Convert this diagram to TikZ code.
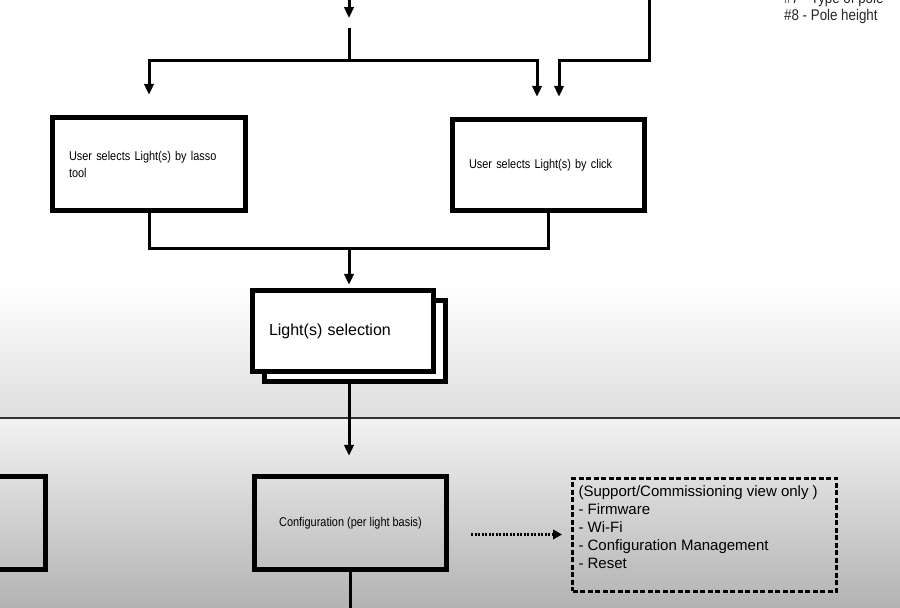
\documentclass[tikz,border=0pt]{standalone}
\usepackage{fontspec}
\setmainfont{Liberation Sans}
\newfontfamily\condfont[FakeStretch=0.86]{Liberation Sans}
\usetikzlibrary{arrows.meta,calc}
\begin{document}
\begin{tikzpicture}[x=1pt,y=-1pt,
  box/.style={draw=black, line width=5.5pt, rectangle, inner sep=0pt},
  conn/.style={line width=3pt},
  arr/.style={conn, -{Triangle[width=9.5pt,length=11pt]}},
  dotarr/.style={line width=3pt, dash pattern=on 2pt off 1.5pt, -{Triangle[width=9.5pt,length=9pt]}},
  smalltxt/.style={font=\condfont\fontsize{12.7}{17}\selectfont},
  midtxt/.style={font=\fontsize{15}{18}\selectfont}]
\useasboundingbox (0,0) rectangle (900,608);
\clip (0,0) rectangle (900,608);
% background
\fill[white] (0,0) rectangle (900,285);
\shade[top color=white, bottom color=black!13] (0,285) rectangle (900,418);
\shade[top color=black!5, bottom color=black!30] (0,418) rectangle (900,608);
\draw[line width=2.5pt, black!80] (0,418) -- (900,418);

% legend
\node[anchor=north west, inner sep=0pt, align=left, text=black!85,
  font=\condfont\fontsize{15.5}{17}\selectfont] (legend) at (784,-8)
  {\#7 - Type of pole\\\#8 - Pole height};

% boxes
\node[box, fill=white, text width=160pt, inner xsep=16.5pt, minimum height=93pt, align=left, smalltxt]
  (lasso) at (149,164) {User selects Light(s) by lasso\\tool};
\node[box, fill=white, text width=159pt, inner xsep=16.5pt, minimum height=91pt, align=left, smalltxt]
  (click) at (548.5,165) {User selects Light(s) by click};
\node[box, fill=white, minimum width=181pt, minimum height=81pt] (selback) at (355,341) {};
\node[box, fill=white, text width=148pt, inner xsep=16.5pt, minimum height=81pt, align=left,
  font=\fontsize{16}{18}\selectfont]
  (sel) at (343,331) {Light(s) selection};
\node[box, minimum width=192pt, minimum height=93pt] (leftbox) at (-50.5,523) {};
\node[box, minimum width=192pt, minimum height=93pt, smalltxt] (config) at (350.5,523)
  {Configuration (per light basis)};
\node[draw=black, line width=3pt, dash pattern=on 5pt off 2.5pt, inner sep=0pt, inner xsep=6pt,
  midtxt, align=left] (dash) at (704.5,534.5)
  {\parbox[t][113pt][t]{252pt}{\vspace{8pt}(Support/Commissioning view only )\\- Firmware\\- Wi-Fi\\- Configuration Management\\- Reset}};

% connectors
\coordinate (t0) at (349,-5);
\coordinate (t1) at (349,18);
\coordinate (s0) at (349,28);
\coordinate (h) at (349,60);
\coordinate (r0) at (649,-5);
\coordinate (m) at (349,248);
\coordinate (cb) at (350.5,615);
\draw[arr] (t0) -- (t1);
\draw[conn] (s0) -- (h);
\draw[arr, shorten >=20pt] (h) -| (lasso.north);
\draw[arr, shorten >=20pt] (h) -| ([xshift=-11.5pt]click.north);
\draw[arr, shorten >=20pt] (r0) |- ([xshift=10.5pt]click.north |- h) -- ([xshift=10.5pt]click.north);
\draw[conn] (lasso.south) |- (m) -| (click.south);
\draw[arr, shorten >=3pt] (m) -- (m |- sel.north);
\draw[arr, shorten >=18pt] (m |- selback.south) -- (m |- config.north);
\draw[conn] (config.south) -- (cb);
\draw[dotarr, shorten <=22pt, shorten >=9pt] (config.east |- dash.west) -- (dash.west);
\end{tikzpicture}
\end{document}
